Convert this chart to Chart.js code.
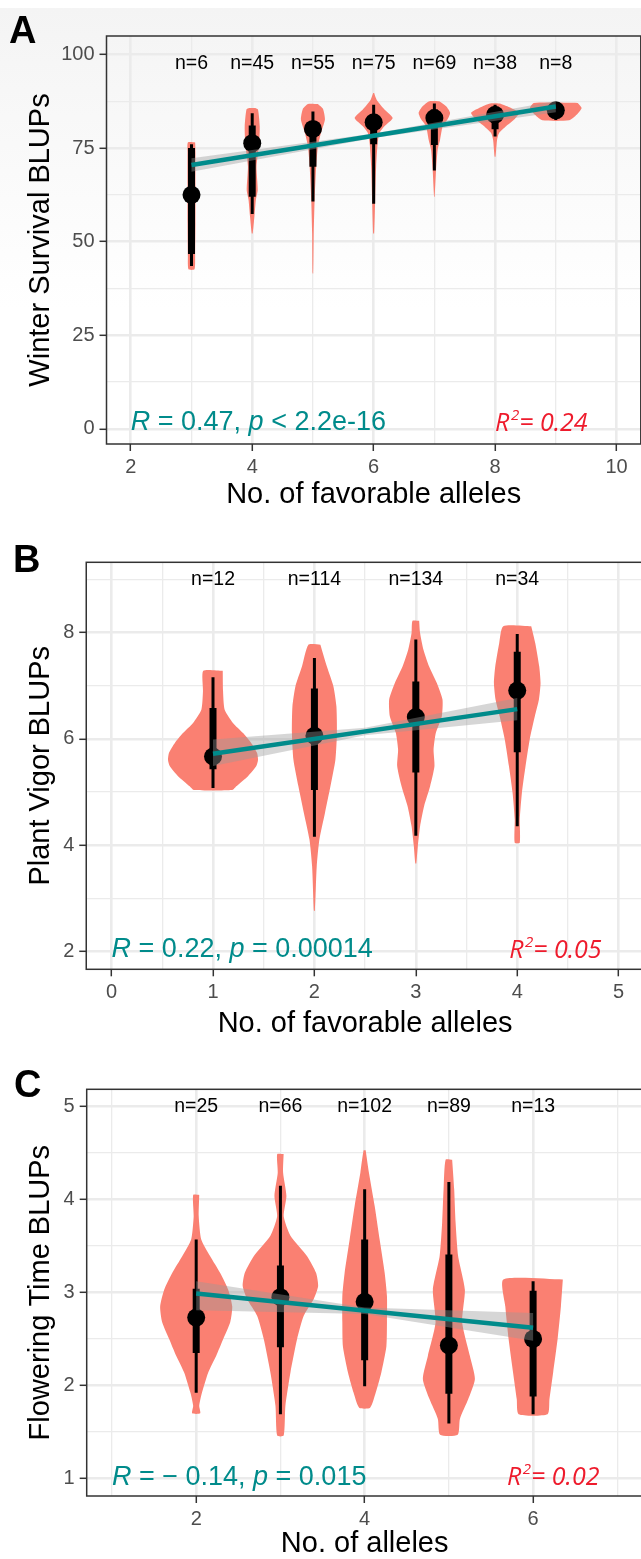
<!DOCTYPE html>
<html>
<head>
<meta charset="utf-8">
<script src="https://cdn.jsdelivr.net/npm/chart.js@4.4.1/dist/chart.umd.min.js"></script>
<style>
  html, body { margin: 0; padding: 0; background: #fff; overflow: hidden; width: 641px; height: 1559px; }
  #fade { position: absolute; left: 0; top: 8px; width: 641px; height: 300px; background: linear-gradient(#f4f4f4, #ffffff); }
  canvas { position: absolute; left: 0; }
</style>
</head>
<body>
<div id="fade"></div>
<canvas id="panelA" width="660" height="520" style="top:0px"></canvas>
<canvas id="panelB" width="660" height="530" style="top:520px"></canvas>
<canvas id="panelC" width="660" height="530" style="top:1040px"></canvas>
<script>
// ---- Panel A : winter survival ----
const A_GROUPS = [3, 4, 5, 6, 7, 8, 9];
const A_N = ['n=6', 'n=45', 'n=55', 'n=75', 'n=69', 'n=38', 'n=8'];
const A_VIOLIN_Y = [
  [76.5, 74, 65, 55, 46, 42.6],
  [85.7, 85.3, 80.8, 76.3, 70.1, 63.8, 61.2, 56.7, 52.2],
  [86.8, 85.5, 82.6, 79.0, 75.4, 70.1, 61.2, 52.2, 41.5],
  [89.7, 87.9, 85.3, 83.0, 80.8, 79.0, 76.3, 70.1, 61.2, 52.2],
  [87.5, 86.1, 84.4, 82.6, 80.8, 77.2, 74.5, 69.2, 62.0],
  [86.9, 85.7, 84.4, 82.6, 80.8, 79.0, 77.2, 72.7],
  [87.05, 85.7, 83.9, 82.4]
];
const A_VIOLIN_W = [
  [0.06, 0.066, 0.066, 0.066, 0.06, 0.05],
  [0.05, 0.095, 0.124, 0.115, 0.071, 0.091, 0.061, 0.036, 0.008],
  [0.082, 0.165, 0.198, 0.132, 0.082, 0.054, 0.028, 0.013, 0.005],
  [0.008, 0.049, 0.178, 0.313, 0.178, 0.096, 0.066, 0.041, 0.025, 0.008],
  [0.082, 0.198, 0.259, 0.214, 0.137, 0.094, 0.054, 0.028, 0.005],
  [0.082, 0.264, 0.395, 0.313, 0.181, 0.066, 0.033, 0.008],
  [0.362, 0.425, 0.343, 0.219]
];
const A_THIN_LO = [43.5, 57.4, 60.7, 60.1, 69.0, 78.1, 82.5];
const A_THIN_HI = [76.0, 84.3, 84.8, 86.6, 86.9, 86.6, 86.8];
const A_THICK_LO = [46.7, 62.0, 70.0, 76.0, 75.8, 80.0, 84.0];
const A_THICK_HI = [75.0, 81.0, 82.0, 84.0, 85.3, 85.3, 86.3];
const A_MEDIAN = [62.5, 76.3, 80.1, 81.9, 83.0, 83.9, 85.1];
const A_FIT_X = [3, 9];
const A_FIT_Y = [70.5, 86.1];
const A_BAND_X = [3, 6, 9];
const A_BAND_LO = [68.7, 77.7, 84.6];
const A_BAND_HI = [72.3, 78.9, 87.6];
const A_X_TICKS = [2, 3, 4, 5, 6, 7, 8, 9, 10];
const A_X_MAJOR = [2, 4, 6, 8, 10];
const A_Y_TICKS = [0, 12.5, 25, 37.5, 50, 62.5, 75, 87.5, 100];
const A_Y_MAJOR = [0, 25, 50, 75, 100];

// ---- Panel B : plant vigor ----
const B_GROUPS = [1, 2, 3, 4];
const B_N = ['n=12', 'n=114', 'n=134', 'n=34'];
const B_VIOLIN_Y = [
  [7.28, 6.9, 6.55, 6.30, 6.11, 5.93, 5.74, 5.61, 5.49, 5.30, 5.11, 5.04],
  [7.77, 7.36, 6.99, 6.61, 6.11, 5.61, 5.11, 4.61, 4.11, 3.61, 2.77],
  [8.22, 7.99, 7.67, 7.36, 7.05, 6.74, 6.42, 6.11, 5.80, 5.49, 5.11, 4.74, 4.36, 3.99, 3.66],
  [8.12, 7.80, 7.36, 7.05, 6.74, 6.42, 5.99, 5.49, 4.99, 4.49, 4.05]
];
const B_VIOLIN_W = [
  [0.096, 0.099, 0.115, 0.197, 0.296, 0.375, 0.434, 0.444, 0.427, 0.345, 0.23, 0.19],
  [0.059, 0.123, 0.187, 0.217, 0.222, 0.207, 0.158, 0.104, 0.049, 0.023, 0.005],
  [0.033, 0.042, 0.076, 0.131, 0.207, 0.263, 0.256, 0.197, 0.175, 0.184, 0.141, 0.082, 0.042, 0.02, 0.005],
  [0.138, 0.178, 0.217, 0.23, 0.214, 0.173, 0.123, 0.082, 0.046, 0.025, 0.025]
];
const B_THIN_LO = [5.08, 4.16, 4.18, 4.36];
const B_THIN_HI = [7.16, 7.52, 7.87, 7.97];
const B_THICK_LO = [5.43, 5.04, 5.37, 5.75];
const B_THICK_HI = [6.58, 6.95, 7.08, 7.64];
const B_MEDIAN = [5.67, 6.06, 6.41, 6.91];
const B_FIT_X = [1, 4];
const B_FIT_Y = [5.72, 6.56];
const B_BAND_X = [1, 2.5, 4];
const B_BAND_LO = [5.49, 6.07, 6.35];
const B_BAND_HI = [5.99, 6.21, 6.77];
const B_X_TICKS = [0, 0.5, 1, 1.5, 2, 2.5, 3, 3.5, 4, 4.5, 5];
const B_X_MAJOR = [0, 1, 2, 3, 4, 5];
const B_Y_TICKS = [2, 3, 4, 5, 6, 7, 8, 9];
const B_Y_MAJOR = [2, 4, 6, 8];

// ---- Panel C : flowering time ----
const C_GROUPS = [2, 3, 4, 5, 6];
const C_N = ['n=25', 'n=66', 'n=102', 'n=89', 'n=13'];
const C_VIOLIN_Y = [
  [4.05, 3.82, 3.57, 3.39, 3.21, 3.03, 2.85, 2.68, 2.50, 2.32, 2.14, 1.92, 1.78, 1.70],
  [4.49, 4.29, 4.04, 3.82, 3.61, 3.39, 3.21, 3.07, 2.93, 2.75, 2.50, 2.14, 1.78, 1.46],
  [4.53, 4.29, 3.93, 3.57, 3.21, 2.96, 2.68, 2.42, 2.14, 1.92, 1.76],
  [4.43, 4.11, 3.75, 3.39, 3.03, 2.68, 2.32, 2.07, 1.85, 1.64, 1.47],
  [3.14, 2.85, 2.50, 2.14, 1.85, 1.69]
];
const C_VIOLIN_W = [
  [0.036, 0.03, 0.06, 0.166, 0.285, 0.38, 0.428, 0.404, 0.321, 0.238, 0.143, 0.068, 0.036, 0.048],
  [0.038, 0.032, 0.071, 0.039, 0.119, 0.317, 0.424, 0.448, 0.396, 0.277, 0.198, 0.119, 0.059, 0.039],
  [0.012, 0.051, 0.119, 0.178, 0.238, 0.265, 0.265, 0.258, 0.198, 0.131, 0.065],
  [0.039, 0.063, 0.08, 0.11, 0.19, 0.158, 0.249, 0.309, 0.229, 0.131, 0.105],
  [0.353, 0.33, 0.291, 0.238, 0.194, 0.172]
];
const C_THIN_LO = [1.92, 1.69, 1.99, 1.59, 1.69];
const C_THIN_HI = [3.57, 4.15, 4.11, 4.19, 3.12];
const C_THICK_LO = [2.35, 2.41, 2.27, 1.91, 1.88];
const C_THICK_HI = [3.04, 3.29, 3.57, 3.41, 3.02];
const C_MEDIAN = [2.73, 2.95, 2.90, 2.43, 2.50];
const C_FIT_X = [2, 6];
const C_FIT_Y = [2.99, 2.62];
const C_BAND_X = [2, 4, 6];
const C_BAND_LO = [2.81, 2.77, 2.48];
const C_BAND_HI = [3.12, 2.84, 2.78];
const C_X_TICKS = [1, 2, 3, 4, 5, 6, 7];
const C_X_MAJOR = [2, 4, 6];
const C_Y_TICKS = [1, 1.5, 2, 2.5, 3, 3.5, 4, 4.5, 5];
const C_Y_MAJOR = [1, 2, 3, 4, 5];

// Styles
const SALMON = '#FA8072';
const TEAL = '#008B8B';
const RED = '#EE1B2C';
const FONT = '"Liberation Sans", Arial, sans-serif';
const R2FONT = '"Open Sans", "Noto Sans", sans-serif';

function violinPolygon(gx, ys, ws) {
  const pts = ys.map((y, i) => ({ x: gx + ws[i], y: y }));
  for (let i = ys.length - 1; i >= 0; i--) pts.push({ x: gx - ws[i], y: ys[i] });
  pts.push(pts[0]);
  return pts;
}

function drawRich(ctx, parts, x, y, size, color) {
  let cx = x;
  ctx.fillStyle = color;
  parts.forEach(([t, it]) => {
    ctx.font = (it ? 'italic ' : '') + size + 'px ' + FONT;
    ctx.fillText(t, cx, y);
    cx += ctx.measureText(t).width;
  });
}

function buildPanel(id, p, L) {
  const datasets = [];
  p.groups.forEach((g, i) => {
    datasets.push({
      type: 'line', data: violinPolygon(g, p.vy[i], p.vw[i]), fill: 'shape',
      backgroundColor: SALMON, borderColor: 'rgba(0,0,0,0)', borderWidth: 0,
      pointRadius: 0, tension: 0.2, order: 5
    });
    datasets.push({
      type: 'line', data: [{ x: g, y: p.thinLo[i] }, { x: g, y: p.thinHi[i] }],
      borderColor: '#000', borderWidth: 3, borderCapStyle: 'butt', pointRadius: 0, fill: false, order: 4
    });
    datasets.push({
      type: 'line', data: [{ x: g, y: p.thickLo[i] }, { x: g, y: p.thickHi[i] }],
      borderColor: '#000', borderWidth: 7, borderCapStyle: 'butt', pointRadius: 0, fill: false, order: 3
    });
  });
  datasets.push({
    type: 'line', data: p.groups.map((g, i) => ({ x: g, y: p.median[i] })),
    showLine: false, pointRadius: 9, pointBackgroundColor: '#000', pointBorderWidth: 0, order: 2
  });
  const band = p.bandX.map((x, i) => ({ x: x, y: p.bandHi[i] }));
  for (let i = p.bandX.length - 1; i >= 0; i--) band.push({ x: p.bandX[i], y: p.bandLo[i] });
  band.push(band[0]);
  datasets.push({
    type: 'line', data: band, fill: 'shape', backgroundColor: 'rgba(153,153,153,0.4)',
    borderColor: 'rgba(0,0,0,0)', borderWidth: 0, pointRadius: 0, tension: 0, order: 1
  });
  datasets.push({
    type: 'line', data: p.fitX.map((x, i) => ({ x: x, y: p.fitY[i] })),
    borderColor: TEAL, borderWidth: 4.5, borderCapStyle: 'butt', pointRadius: 0, fill: false, order: 0
  });

  const overlay = {
    id: 'overlay' + id,
    afterDatasetsDraw(chart) {
      const { ctx, chartArea: a, scales: { x, y } } = chart;
      ctx.save();
      ctx.strokeStyle = '#333333';
      ctx.lineWidth = 1.5;
      ctx.strokeRect(a.left, a.top, a.right - a.left, a.bottom - a.top);
      // sample sizes
      ctx.fillStyle = '#000';
      ctx.font = '19.5px ' + FONT;
      ctx.textAlign = 'center';
      ctx.textBaseline = 'middle';
      p.groups.forEach((g, i) => ctx.fillText(p.nLabels[i], x.getPixelForValue(g), y.getPixelForValue(p.nY)));
      // correlation label
      ctx.textAlign = 'left';
      drawRich(ctx, p.stat, x.getPixelForValue(p.statX), y.getPixelForValue(p.statY), 27, TEAL);
      // R squared
      ctx.textBaseline = 'alphabetic';
      ctx.fillStyle = RED;
      let rx = x.getPixelForValue(p.r2X);
      const ry = y.getPixelForValue(p.r2Y);
      ctx.font = 'italic 25px ' + R2FONT;
      ctx.fillText('R', rx, ry);
      rx += ctx.measureText('R').width + 1.5;
      ctx.font = 'italic 15px ' + R2FONT;
      ctx.fillText('2', rx, ry - 11);
      rx += ctx.measureText('2').width;
      ctx.font = 'italic 25px ' + R2FONT;
      ctx.fillText('= ' + p.r2, rx, ry);
      // panel letter
      ctx.fillStyle = '#000';
      ctx.font = 'bold 38px ' + FONT;
      ctx.fillText(p.letter, L.letterX, L.letterY);
      ctx.restore();
    }
  };

  const canvas = document.getElementById(id);
  const W = canvas.width, H = canvas.height;
  const tickFont = { family: FONT, size: 20 };
  const titleFont = { family: FONT, size: 29 };

  new Chart(canvas, {
    type: 'scatter',
    data: { datasets: datasets },
    options: {
      responsive: false,
      animation: false,
      events: [],
      layout: { padding: { left: 0, top: L.top, right: W - L.right, bottom: 0 } },
      plugins: { legend: { display: false }, tooltip: { enabled: false } },
      scales: {
        x: {
          type: 'linear', min: p.xMin, max: p.xMax,
          afterBuildTicks: s => { s.ticks = p.xTicks.map(v => ({ value: v })); },
          afterFit: s => { s.height = H - L.bottom; },
          ticks: {
            autoSkip: false, maxRotation: 0, padding: 4, color: '#4D4D4D', font: tickFont,
            callback: v => (p.xMajor.includes(v) ? String(v) : '')
          },
          grid: {
            color: '#EBEBEB',
            lineWidth: c => (p.xMajor.includes(c.tick.value) ? 2.6 : 1.3),
            tickColor: c => (p.xMajor.includes(c.tick.value) ? '#333333' : 'rgba(0,0,0,0)'),
            tickLength: 7, tickWidth: 1.5
          },
          border: { display: false },
          title: { display: true, text: p.xTitle, color: '#000', font: titleFont, padding: { top: 0, bottom: L.xTitlePad } }
        },
        y: {
          type: 'linear', min: p.yMin, max: p.yMax,
          afterBuildTicks: s => { s.ticks = p.yTicks.map(v => ({ value: v })); },
          afterFit: s => { s.width = L.left; },
          ticks: {
            autoSkip: false, padding: 5, color: '#4D4D4D', font: tickFont,
            callback: v => (p.yMajor.includes(v) ? String(v) : '')
          },
          grid: {
            color: '#EBEBEB',
            lineWidth: c => (p.yMajor.includes(c.tick.value) ? 2.6 : 1.3),
            tickColor: c => (p.yMajor.includes(c.tick.value) ? '#333333' : 'rgba(0,0,0,0)'),
            tickLength: 7, tickWidth: 1.5
          },
          border: { display: false },
          title: { display: true, text: p.yTitle, color: '#000', font: titleFont, padding: { top: 24, bottom: 0 } }
        }
      }
    },
    plugins: [overlay]
  });
}

buildPanel('panelA', {
  letter: 'A', groups: A_GROUPS, nLabels: A_N, nY: 97.6,
  vy: A_VIOLIN_Y, vw: A_VIOLIN_W,
  thinLo: A_THIN_LO, thinHi: A_THIN_HI, thickLo: A_THICK_LO, thickHi: A_THICK_HI, median: A_MEDIAN,
  fitX: A_FIT_X, fitY: A_FIT_Y, bandX: A_BAND_X, bandLo: A_BAND_LO, bandHi: A_BAND_HI,
  xMin: 1.6, xMax: 10.4, yMin: -4.06, yMax: 104.94,
  xTicks: A_X_TICKS, xMajor: A_X_MAJOR, yTicks: A_Y_TICKS, yMajor: A_Y_MAJOR,
  xTitle: 'No. of favorable alleles', yTitle: 'Winter Survival BLUPs',
  stat: [['R', 1], [' = 0.47, ', 0], ['p', 1], [' < 2.2e-16', 0]], statX: 2, statY: 1.7,
  r2: '0.24', r2X: 8.0, r2Y: -0.5
}, { top: 36, bottom: 444, left: 106.5, right: 640.8, xTitlePad: 7.6, letterX: 9, letterY: 43 });

buildPanel('panelB', {
  letter: 'B', groups: B_GROUPS, nLabels: B_N, nY: 9.0,
  vy: B_VIOLIN_Y, vw: B_VIOLIN_W,
  thinLo: B_THIN_LO, thinHi: B_THIN_HI, thickLo: B_THICK_LO, thickHi: B_THICK_HI, median: B_MEDIAN,
  fitX: B_FIT_X, fitY: B_FIT_Y, bandX: B_BAND_X, bandLo: B_BAND_LO, bandHi: B_BAND_HI,
  xMin: -0.25, xMax: 5.25, yMin: 1.67, yMax: 9.32,
  xTicks: B_X_TICKS, xMajor: B_X_MAJOR, yTicks: B_Y_TICKS, yMajor: B_Y_MAJOR,
  xTitle: 'No. of favorable alleles', yTitle: 'Plant Vigor BLUPs',
  stat: [['R', 1], [' = 0.22, ', 0], ['p', 1], [' = 0.00014', 0]], statX: 0, statY: 2.04,
  r2: '0.05', r2X: 3.92, r2Y: 1.876
}, { top: 42.3, bottom: 449.3, left: 86.25, right: 644, xTitlePad: 8.6, letterX: 13, letterY: 52 });

buildPanel('panelC', {
  letter: 'C', groups: C_GROUPS, nLabels: C_N, nY: 5.0,
  vy: C_VIOLIN_Y, vw: C_VIOLIN_W,
  thinLo: C_THIN_LO, thinHi: C_THIN_HI, thickLo: C_THICK_LO, thickHi: C_THICK_HI, median: C_MEDIAN,
  fitX: C_FIT_X, fitY: C_FIT_Y, bandX: C_BAND_X, bandLo: C_BAND_LO, bandHi: C_BAND_HI,
  xMin: 0.7, xMax: 7.3, yMin: 0.81, yMax: 5.187,
  xTicks: C_X_TICKS, xMajor: C_X_MAJOR, yTicks: C_Y_TICKS, yMajor: C_Y_MAJOR,
  xTitle: 'No. of alleles', yTitle: 'Flowering Time BLUPs',
  stat: [['R', 1], [' = \u2212 0.14, ', 0], ['p', 1], [' = 0.015', 0]], statX: 1, statY: 1.01,
  r2: '0.02', r2X: 5.69, r2Y: 0.93
}, { top: 49.3, bottom: 456, left: 86.7, right: 642.6, xTitlePad: 8.3, letterX: 14, letterY: 57 });
</script>
</body>
</html>
